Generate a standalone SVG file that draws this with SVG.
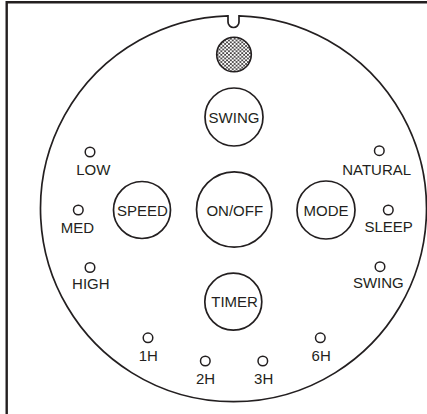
<svg xmlns="http://www.w3.org/2000/svg" width="427" height="414" viewBox="0 0 427 414">
<style>
.ln{fill:none;stroke:#231f20;stroke-width:1.7}
.btn{fill:#fff;stroke:#231f20;stroke-width:1.7}
.led{fill:#fff;stroke:#231f20;stroke-width:1.5}
.t{font-family:"Liberation Sans",Arial,sans-serif;font-size:15px;fill:#231f20;text-anchor:middle}
</style>
<defs>
<pattern id="dots" patternUnits="userSpaceOnUse" width="3.8" height="3.6" x="0" y="0">
<circle cx="0.95" cy="0.9" r="0.95" fill="#231f20"/>
<circle cx="2.85" cy="2.7" r="0.95" fill="#231f20"/>
</pattern>
</defs>
<rect width="427" height="414" fill="#fff"/>
<g id="frame">
<path d="M6.7 414 V2.2 H427" fill="none" stroke="#231f20" stroke-width="2.4"/>
</g>
<g id="body">
<path class="ln" d="M228 15.8 L228 22 A5.5 5.5 0 0 0 239 22 L239 15.8 A193 193 0 1 1 228 15.8 Z"/>
</g>
<g id="speaker">
<circle cx="234" cy="54.5" r="17.3" fill="url(#dots)" stroke="#231f20" stroke-width="1.6"/>
</g>
<g id="swing-btn"><circle class="btn" cx="234" cy="117" r="29"/><text class="t" x="234" y="122.5">SWING</text></g>
<g id="speed-btn"><circle class="btn" cx="142" cy="210" r="28.5"/><text class="t" x="142.5" y="215.5">SPEED</text></g>
<g id="onoff-btn"><circle class="btn" cx="234.2" cy="209.5" r="37.7"/><text class="t" x="234.8" y="215.5">ON/OFF</text></g>
<g id="mode-btn"><circle class="btn" cx="326" cy="210" r="29"/><text class="t" x="326" y="215.5">MODE</text></g>
<g id="timer-btn"><circle class="btn" cx="233.3" cy="301.7" r="28.5"/><text class="t" x="234.6" y="307.3">TIMER</text></g>
<g id="low"><circle class="led" cx="90" cy="152" r="4.8"/><text class="t" x="93.3" y="175">LOW</text></g>
<g id="med"><circle class="led" cx="78.3" cy="210" r="4.8"/><text class="t" x="77.5" y="232.7">MED</text></g>
<g id="high"><circle class="led" cx="90" cy="267.5" r="4.8"/><text class="t" x="90.8" y="289.3">HIGH</text></g>
<g id="natural"><circle class="led" cx="379.3" cy="150.7" r="4.8"/><text class="t" x="376.7" y="175">NATURAL</text></g>
<g id="sleep"><circle class="led" cx="388.3" cy="210" r="4.8"/><text class="t" x="388.7" y="231.7">SLEEP</text></g>
<g id="swing"><circle class="led" cx="380" cy="266.7" r="4.8"/><text class="t" x="378.3" y="288.3">SWING</text></g>
<g id="h1"><circle class="led" cx="148" cy="337.8" r="4.8"/><text class="t" x="148.3" y="360.5">1H</text></g>
<g id="h2"><circle class="led" cx="205.3" cy="361" r="4.8"/><text class="t" x="205.5" y="384">2H</text></g>
<g id="h3"><circle class="led" cx="262.8" cy="361" r="4.8"/><text class="t" x="263.7" y="384">3H</text></g>
<g id="h6"><circle class="led" cx="320.3" cy="337.8" r="4.8"/><text class="t" x="321.2" y="360.5">6H</text></g>
<g id="connectors"></g>
</svg>
